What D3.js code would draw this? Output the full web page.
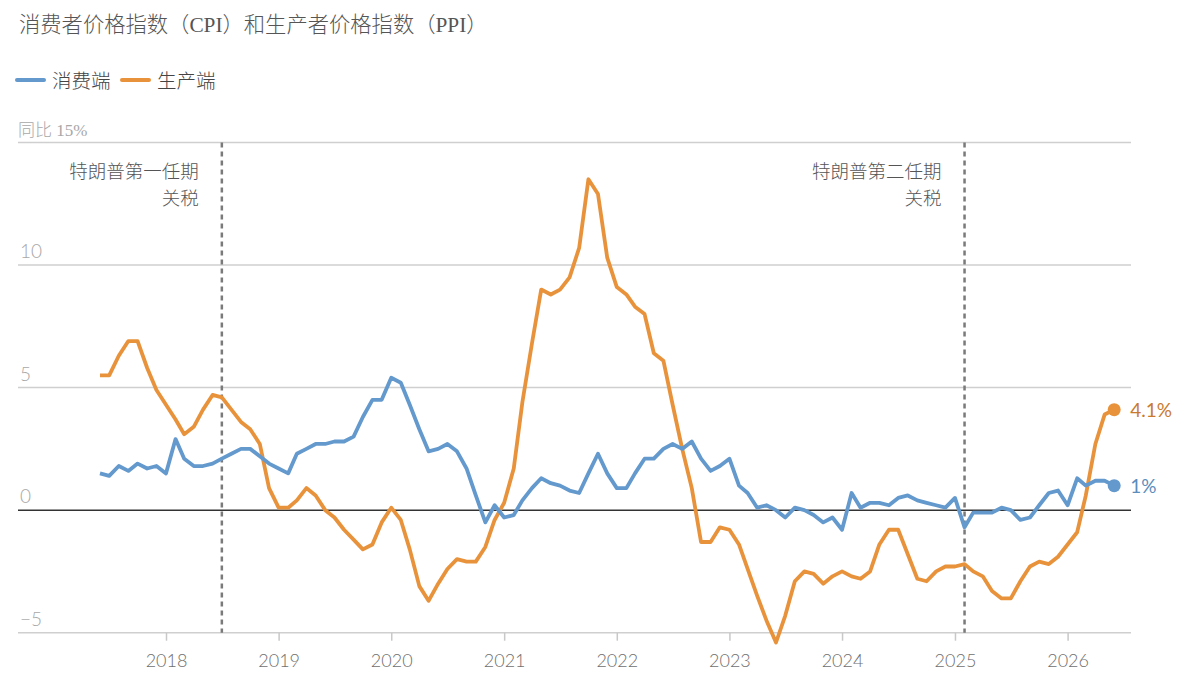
<!DOCTYPE html>
<html>
<head>
<meta charset="utf-8">
<script src="https://cdn.jsdelivr.net/npm/d3@7"></script>
<style>
  body { margin: 0; background: #fff; }
  svg { display: block; }
</style>
</head>
<body>
<div id="chart"></div>
<script>
// monthly year-on-year %, June 2017 .. June 2026
var startMonth = new Date(2017, 5, 1);

var cpiValues = [
  1.5, 1.4, 1.8, 1.6, 1.9, 1.7, 1.8,
  1.5, 2.9, 2.1, 1.8, 1.8, 1.9, 2.1, 2.3, 2.5, 2.5, 2.2, 1.9,
  1.7, 1.5, 2.3, 2.5, 2.7, 2.7, 2.8, 2.8, 3.0, 3.8, 4.5, 4.5,
  5.4, 5.2, 4.3, 3.3, 2.4, 2.5, 2.7, 2.4, 1.7, 0.6, -0.5, 0.2,
  -0.3, -0.2, 0.4, 0.9, 1.3, 1.1, 1.0, 0.8, 0.7, 1.5, 2.3, 1.5,
  0.9, 0.9, 1.5, 2.1, 2.1, 2.5, 2.7, 2.5, 2.8, 2.1, 1.6, 1.8,
  2.1, 1.0, 0.7, 0.1, 0.2, 0.0, -0.3, 0.1, 0.0, -0.2, -0.5, -0.3,
  -0.8, 0.7, 0.1, 0.3, 0.3, 0.2, 0.5, 0.6, 0.4, 0.3, 0.2, 0.1,
  0.5, -0.7, -0.1, -0.1, -0.1, 0.1, 0.0, -0.4, -0.3, 0.2, 0.7, 0.8,
  0.2, 1.3, 1.0, 1.2, 1.2, 1.0
];

var ppiValues = [
  5.5, 5.5, 6.3, 6.9, 6.9, 5.8, 4.9,
  4.3, 3.7, 3.1, 3.4, 4.1, 4.7, 4.6, 4.1, 3.6, 3.3, 2.7, 0.9,
  0.1, 0.1, 0.4, 0.9, 0.6, 0.0, -0.3, -0.8, -1.2, -1.6, -1.4, -0.5,
  0.1, -0.4, -1.6, -3.1, -3.7, -3.0, -2.4, -2.0, -2.1, -2.1, -1.5, -0.4,
  0.3, 1.7, 4.4, 6.8, 9.0, 8.8, 9.0, 9.5, 10.7, 13.5, 12.9, 10.3,
  9.1, 8.8, 8.3, 8.0, 6.4, 6.1, 4.3, 2.5, 0.9, -1.3, -1.3, -0.7,
  -0.8, -1.4, -2.4, -3.5, -4.5, -5.4, -4.3, -2.9, -2.5, -2.6, -3.0, -2.7,
  -2.5, -2.7, -2.8, -2.5, -1.4, -0.8, -0.8, -1.8, -2.8, -2.9, -2.5, -2.3,
  -2.3, -2.2, -2.5, -2.7, -3.3, -3.6, -3.6, -2.9, -2.3, -2.1, -2.2, -1.9,
  -1.4, -0.9, 0.6, 2.7, 3.9, 4.1
];

var yTicks = [-5, 0, 5, 10, 15];
var yearTicks = [2018, 2019, 2020, 2021, 2022, 2023, 2024, 2025, 2026];

var seriesNames = ["消费端", "生产端"];
var seriesColors = ["#6399cd", "#e8933b"];
var endLabelColors = ["#5b8dbd", "#c97a30"];

var tariffEvents = [
  { date: new Date(2018, 6, 1), lines: ["特朗普第一任期", "关税"] },
  { date: new Date(2025, 1, 1), lines: ["特朗普第二任期", "关税"] }
];

var width = 1199, height = 689;
var left = 18, right = 1131;
var cjkSerif = "'Liberation Serif', 'Noto Sans CJK SC', serif";
var cjkSans = "'Noto Sans CJK SC', sans-serif";

var svg = d3.select("#chart")
  .append("svg")
  .attr("width", width)
  .attr("height", height);

var xScale = d3.scaleTime()
  .domain([new Date(2018, 0, 1), new Date(2026, 0, 1)])
  .range([166, 1067.6]);

var yScale = d3.scaleLinear()
  .domain([-5, 15])
  .range([632.7, 142.5]);

function monthDate(i) {
  return d3.timeMonth.offset(startMonth, i);
}

// title
svg.append("text")
  .attr("x", 19)
  .attr("y", 32)
  .attr("font-family", cjkSerif)
  .attr("font-weight", 300)
  .attr("font-size", "21.3px")
  .attr("fill", "#555")
  .text("消费者价格指数（CPI）和生产者价格指数（PPI）");

// legend
var legendX = [17, 122];
seriesNames.forEach(function(name, i) {
  svg.append("line")
    .attr("x1", legendX[i])
    .attr("x2", legendX[i] + 27)
    .attr("y1", 80)
    .attr("y2", 80)
    .attr("stroke", seriesColors[i])
    .attr("stroke-width", 4)
    .attr("stroke-linecap", "round");
  svg.append("text")
    .attr("x", legendX[i] + 35)
    .attr("y", 88)
    .attr("font-family", cjkSans)
    .attr("font-weight", 300)
    .attr("font-size", "19.5px")
    .attr("fill", "#444")
    .text(name);
});

// gridlines
svg.append("g")
  .selectAll("line")
  .data(yTicks.filter(function(d) { return d !== 0; }))
  .enter()
  .append("line")
  .attr("x1", left)
  .attr("x2", right)
  .attr("y1", function(d) { return yScale(d); })
  .attr("y2", function(d) { return yScale(d); })
  .attr("stroke", "#cfcfcf")
  .attr("stroke-width", 1.5);

// y labels
svg.append("g")
  .selectAll("text")
  .data(yTicks)
  .enter()
  .append("text")
  .attr("x", function(d) { return d === 15 ? 18 : 20; })
  .attr("y", function(d) { return yScale(d) - 7; })
  .attr("font-family", function(d) { return d === 15 ? cjkSerif : "Lato, sans-serif"; })
  .attr("font-weight", 300)
  .attr("font-size", function(d) { return d === 15 ? "17px" : "19px"; })
  .attr("fill", "#a8a8a8")
  .text(function(d) {
    if (d === 15) return "同比 15%";
    return d < 0 ? "\u2212" + Math.abs(d) : d;
  });

// x axis ticks + labels
var xAxis = d3.axisBottom(xScale)
  .tickValues(yearTicks.map(function(y) { return new Date(y, 0, 1); }))
  .tickFormat(d3.timeFormat("%Y"))
  .tickSize(8)
  .tickPadding(14);

var xg = svg.append("g")
  .attr("transform", "translate(0," + yScale(-5) + ")")
  .call(xAxis);
xg.select(".domain").remove();
xg.selectAll(".tick line").attr("stroke", "#c8c8c8").attr("stroke-width", 1.5);
xg.selectAll(".tick text")
  .attr("font-family", "Lato, sans-serif")
  .attr("font-weight", 300)
  .attr("font-size", "18px")
  .attr("fill", "#6f6f6f");

// tariff markers
tariffEvents.forEach(function(ev) {
  var x = xScale(ev.date);
  svg.append("line")
    .attr("x1", x)
    .attr("x2", x)
    .attr("y1", yScale(15))
    .attr("y2", yScale(-5))
    .attr("stroke", "#7a7a7a")
    .attr("stroke-width", 2.5)
    .attr("stroke-dasharray", "5,4");
  ev.lines.forEach(function(t, j) {
    svg.append("text")
      .attr("x", x - 23)
      .attr("y", 178 + j * 27)
      .attr("text-anchor", "end")
      .attr("font-family", cjkSans)
      .attr("font-weight", 300)
      .attr("font-size", "18.5px")
      .attr("fill", "#555")
      .text(t);
  });
});

// zero line
svg.append("line")
  .attr("x1", left)
  .attr("x2", right)
  .attr("y1", yScale(0))
  .attr("y2", yScale(0))
  .attr("stroke", "#333")
  .attr("stroke-width", 1.5);

var line = d3.line()
  .x(function(d, i) { return xScale(monthDate(i)); })
  .y(function(d) { return yScale(d); });

var allSeries = [cpiValues, ppiValues];
var drawOrder = [1, 0];

drawOrder.forEach(function(k) {
  svg.append("path")
    .datum(allSeries[k])
    .attr("fill", "none")
    .attr("stroke", seriesColors[k])
    .attr("stroke-width", 3.8)
    .attr("stroke-linejoin", "round")
    .attr("d", line);
});

// end points and labels
allSeries.forEach(function(vals, k) {
  var n = vals.length - 1;
  var ex = xScale(monthDate(n)), ey = yScale(vals[n]);
  svg.append("circle")
    .attr("cx", ex)
    .attr("cy", ey)
    .attr("r", 6.5)
    .attr("fill", seriesColors[k]);
  svg.append("text")
    .attr("x", ex + 16)
    .attr("y", ey + 7)
    .attr("font-family", "Lato, sans-serif")
    .attr("font-size", "19px")
    .attr("fill", endLabelColors[k])
    .text(d3.format("")(vals[n]) + "%");
});
</script>
</body>
</html>
